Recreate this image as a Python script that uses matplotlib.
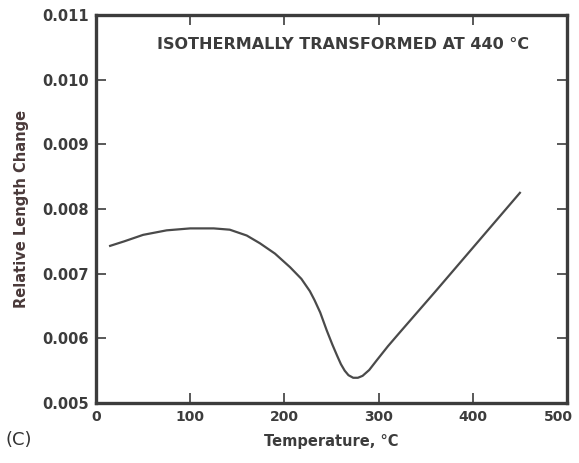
import matplotlib
matplotlib.use("Agg")
import matplotlib.pyplot as plt
from matplotlib.transforms import ScaledTranslation

temp = [15, 30, 50, 75, 100, 125, 142, 160, 174, 190, 206, 218, 227, 232,
        238, 245, 251, 256, 260, 264, 268, 273, 278, 283, 290, 298, 310, 323,
        360, 400, 450]
dl = [0.00743, 0.00750, 0.00760, 0.00767, 0.00770, 0.00770, 0.00768, 0.00759,
      0.00747, 0.00731, 0.00710, 0.00692, 0.00673, 0.00659, 0.00640, 0.00612,
      0.00590, 0.00573, 0.00560, 0.00550, 0.00543, 0.00539, 0.00539, 0.00542,
      0.00551, 0.00566, 0.00588, 0.00610, 0.00672, 0.00740, 0.00825]

xticks = [0, 100, 200, 300, 400, 500]
yticks = [0.005, 0.006, 0.007, 0.008, 0.009, 0.010, 0.011]
ylabels = ["0.005", "0.006", "0.007", "0.008", "0.009", "0.010", "0.011"]

ink = "#3c3c3c"

fig = plt.figure(figsize=(5.79, 4.63), dpi=100)
ax = fig.add_axes([0.1658, 0.1296, 0.8135, 0.838])

ax.plot(temp, dl, color="#4a4a4a", lw=1.6)

ax.set_xlim(0, 500)
ax.set_ylim(0.005, 0.011)
ax.set_xticks(xticks)
ax.set_yticks(yticks)
ax.set_yticklabels(ylabels)

for s in ax.spines.values():
    s.set_linewidth(2.4)
    s.set_color(ink)

ax.tick_params(direction="in", length=7, width=1.2, color=ink,
               top=True, right=True, labelsize=10.5, labelcolor=ink, pad=5)
ax.tick_params(axis="x", labelsize=10)
for lab in ax.get_xticklabels() + ax.get_yticklabels():
    lab.set_fontweight("bold")

# keep the last x label inside the figure
last = ax.get_xticklabels()[-1]
last.set_transform(last.get_transform() + ScaledTranslation(-6 / 72, 0, fig.dpi_scale_trans))

ax.set_xlabel("Temperature, °C", fontsize=10.5, fontweight="bold", color=ink, labelpad=7)
ax.set_ylabel("Relative Length Change", fontsize=10.5, fontweight="bold", color="#4a3a3a", labelpad=10)

ax.text(0.524, 0.923, "ISOTHERMALLY TRANSFORMED AT 440 °C", transform=ax.transAxes,
        ha="center", va="center", fontsize=11.5, fontweight="bold", color=ink)

fig.text(0.032, 0.05, "(C)", fontsize=13, color="#333333", ha="center", va="center")

fig.savefig("out.png", dpi=100)
